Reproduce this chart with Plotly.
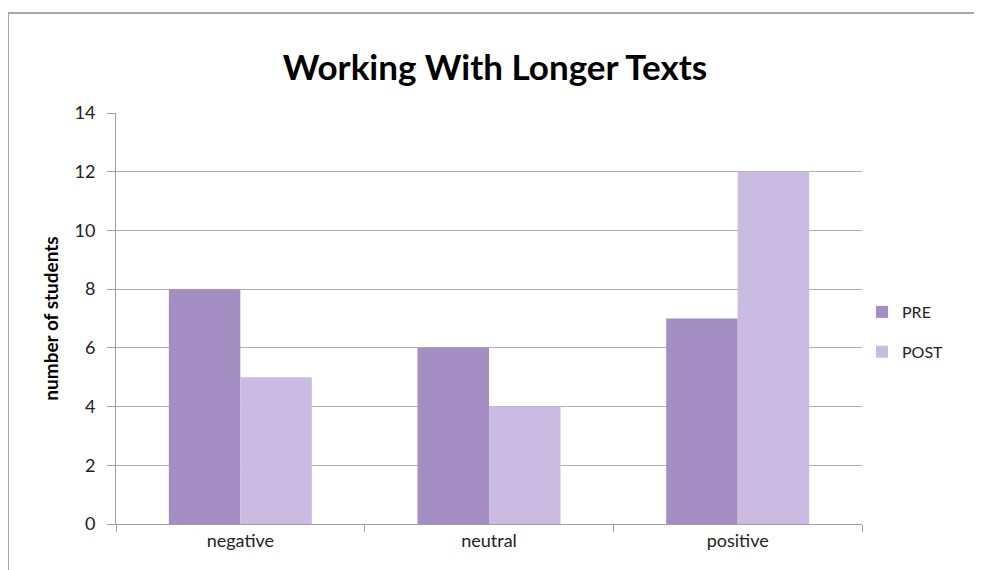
import plotly.graph_objects as go

categories = ["negative", "neutral", "positive"]
pre_values = [8, 6, 7]
post_values = [5, 4, 12]
series_names = ["PRE", "POST"]
y_ticks = [0, 2, 4, 6, 8, 10, 12, 14]

# page has an 8px body margin, so the figure is offset by 8px
W, H = 974, 562
L, R, T, B = 108, 120, 105, 46
pw, ph = W - L - R, H - T - B

fig = go.Figure()
fig.add_trace(go.Bar(name=series_names[0], x=categories, y=pre_values, legendgroup="a",
                     marker=dict(color="#a48ec4", line=dict(width=0))))
fig.add_trace(go.Bar(name=series_names[1], x=categories, y=post_values, legendgroup="b",
                     marker=dict(color="#c9bbe1", line=dict(width=0))))

font = "Lato, 'Open Sans', sans-serif"
fig.update_layout(
    width=W, height=H,
    margin=dict(l=L, r=R, t=T, b=B, autoexpand=False),
    paper_bgcolor="white", plot_bgcolor="white",
    barmode="group", bargap=0.425, bargroupgap=0,
    title=dict(text="<b>Working With Longer Texts</b>", x=0.5, xanchor="center",
               y=1 - 60 / H, yanchor="middle",
               font=dict(family=font, size=35, color="black")),
    font=dict(family=font, size=18, color="#222"),
    showlegend=True,
    legend=dict(x=(854 - L) / pw, xanchor="left", y=(516 - 287) / ph,
                yanchor="top", font=dict(size=16, color="#222"),
                traceorder="grouped", tracegroupgap=16,
                bgcolor="rgba(0,0,0,0)", itemwidth=30),
    xaxis=dict(showgrid=False, showline=True, linecolor="#a0a0a0", linewidth=1,
               ticks="outside", tickson="boundaries", ticklen=7, tickcolor="#a0a0a0",
               tickfont=dict(size=18, color="#222")),
    yaxis=dict(range=[0, 14], tickvals=y_ticks, showgrid=True, gridcolor="#b0b0b0",
               gridwidth=1, showline=True, linecolor="#a0a0a0", linewidth=1,
               ticks="outside", ticklen=8, tickcolor="#a0a0a0", zeroline=False,
               ticklabelstandoff=8,
               tickfont=dict(size=18, color="#222"),
               title=dict(text="<b>number of students</b>", standoff=10,
                          font=dict(size=19, color="black"))),
    shapes=[
        dict(type="line", xref="paper", yref="paper",
             x0=(0 - L) / pw, x1=(W - L) / pw, y0=(516 - 5) / ph, y1=(516 - 5) / ph,
             line=dict(color="#a8a8a8", width=2)),
        dict(type="line", xref="paper", yref="paper",
             x0=(0 - L) / pw, x1=(0 - L) / pw, y0=(516 - 5) / ph, y1=(516 - H) / ph,
             line=dict(color="#a8a8a8", width=2)),
    ],
)

fig.write_html("out.html")
